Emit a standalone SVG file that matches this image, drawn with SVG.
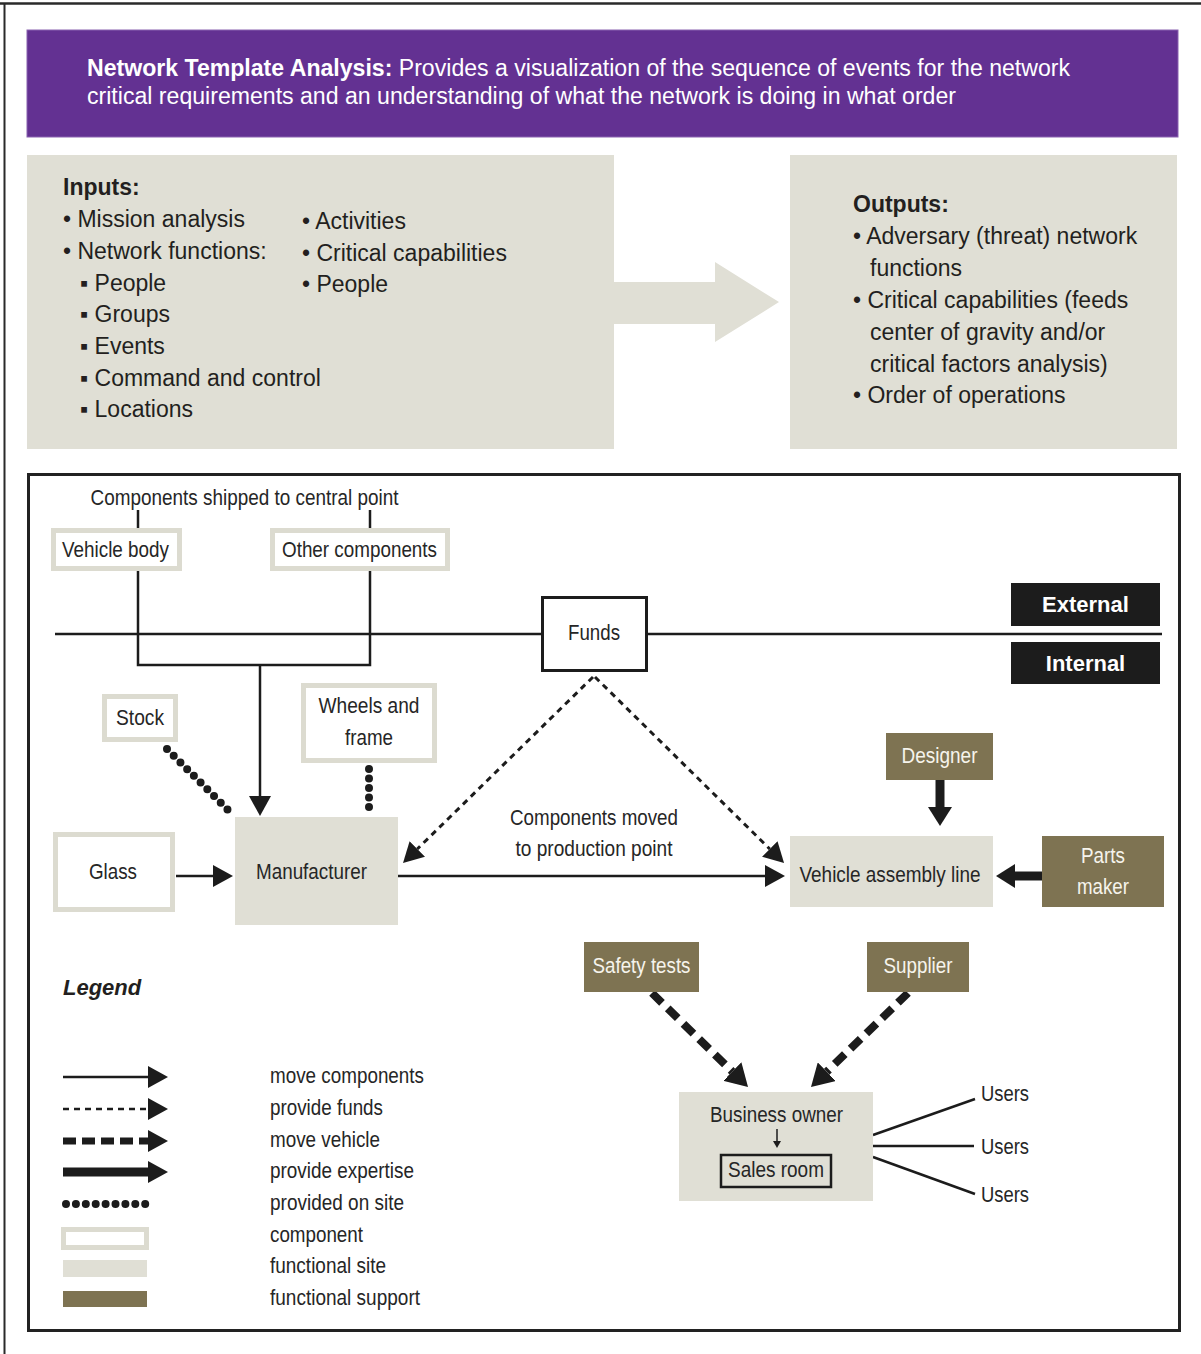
<svg xmlns="http://www.w3.org/2000/svg" width="1201" height="1354" viewBox="0 0 1201 1354">
  <style>
    .top { font-family: "Liberation Sans", Arial, sans-serif; font-size: 23px; fill: #231f20; }
    .hdr { fill: #ffffff; }
    .b { font-weight: bold; }
    .lbl { font-family: "Liberation Sans", Arial, sans-serif; font-size: 22px; fill: #262626; }
    .lblw { fill: #f6f4ec; }
    .tag { font-family: "Liberation Sans", Arial, sans-serif; font-size: 22px; font-weight: bold; fill: #ffffff; }
    .comp { fill: #ffffff; stroke: #dcdbd0; stroke-width: 5; }
    .site { fill: #e0dfd5; }
    .supp { fill: #7e7352; }
    .ln { fill: none; stroke: #1c1c1c; stroke-width: 2.5; }
    .funds { fill: none; stroke: #1c1c1c; stroke-width: 3; stroke-dasharray: 6 5; }
    .veh { fill: none; stroke: #1c1c1c; stroke-width: 8; stroke-dasharray: 14 8; }
    .exp { fill: none; stroke: #1c1c1c; stroke-width: 9; }
    .dots { fill: none; stroke: #1c1c1c; stroke-width: 8; stroke-linecap: round; stroke-dasharray: 0 9.5; }
  </style>
  <defs>
    <marker id="ah" markerUnits="userSpaceOnUse" markerWidth="20" markerHeight="22" refX="0" refY="11" orient="auto">
      <path d="M0,0 L20,11 L0,22 z" fill="#1c1c1c"/>
    </marker>
    <marker id="ahb" markerUnits="userSpaceOnUse" markerWidth="19" markerHeight="24" refX="0" refY="12" orient="auto">
      <path d="M0,0 L19,12 L0,24 z" fill="#1c1c1c"/>
    </marker>
    <marker id="ahv" markerUnits="userSpaceOnUse" markerWidth="22" markerHeight="26" refX="0" refY="13" orient="auto">
      <path d="M0,0 L22,13 L0,26 z" fill="#1c1c1c"/>
    </marker>
    <marker id="ahs" markerUnits="userSpaceOnUse" markerWidth="7" markerHeight="8" refX="0" refY="4" orient="auto">
      <path d="M0,0 L7,4 L0,8 z" fill="#1c1c1c"/>
    </marker>
  </defs>

  <rect width="1201" height="1354" fill="#ffffff"/>
  <!-- page edge -->
  <line x1="0" y1="3.5" x2="1201" y2="3.5" stroke="#2a2a2a" stroke-width="2.5"/>
  <line x1="4.5" y1="3" x2="4.5" y2="1354" stroke="#2a2a2a" stroke-width="2"/>

  <!-- title banner -->
  <g id="banner">
    <rect x="27" y="30" width="1151" height="107" fill="#633192" stroke="#8a62b0" stroke-width="1"/>
    <text class="top hdr" x="87" y="76" textLength="983" lengthAdjust="spacingAndGlyphs"><tspan class="b">Network Template Analysis:</tspan> Provides a visualization of the sequence of events for the network</text>
    <text class="top hdr" x="87" y="104" textLength="869" lengthAdjust="spacingAndGlyphs">critical requirements and an understanding of what the network is doing in what order</text>
  </g>

  <!-- inputs panel with arrow -->
  <g id="inputs">
    <rect x="27" y="155" width="587" height="294" class="site"/>
    <path d="M614,282 L715,282 L715,262 L779,302 L715,342 L715,324 L614,324 z" class="site"/>
    <text class="top b" x="63" y="195">Inputs:</text>
    <text class="top" x="63" y="227">• Mission analysis</text>
    <text class="top" x="63" y="259">• Network functions:</text>
    <text class="top" x="80" y="291">▪ People</text>
    <text class="top" x="80" y="322">▪ Groups</text>
    <text class="top" x="80" y="354">▪ Events</text>
    <text class="top" x="80" y="386">▪ Command and control</text>
    <text class="top" x="80" y="417">▪ Locations</text>
    <text class="top" x="302" y="229">• Activities</text>
    <text class="top" x="302" y="261">• Critical capabilities</text>
    <text class="top" x="302" y="292">• People</text>
  </g>

  <!-- outputs panel -->
  <g id="outputs">
    <rect x="790" y="155" width="387" height="294" class="site"/>
    <text class="top b" x="853" y="212">Outputs:</text>
    <text class="top" x="853" y="244">• Adversary (threat) network</text>
    <text class="top" x="870" y="276">functions</text>
    <text class="top" x="853" y="308">• Critical capabilities (feeds</text>
    <text class="top" x="870" y="340">center of gravity and/or</text>
    <text class="top" x="870" y="372">critical factors analysis)</text>
    <text class="top" x="853" y="403">• Order of operations</text>
  </g>

  <!-- network template frame -->
  <rect x="28.5" y="474.5" width="1151" height="856" fill="none" stroke="#222222" stroke-width="3"/>

  <!-- connectors -->
  <g id="connectors">
    <!-- external / internal boundary -->
    <line x1="55" y1="634" x2="541" y2="634" class="ln"/>
    <line x1="648" y1="634" x2="1162" y2="634" class="ln"/>
    <!-- shipped components -->
    <line x1="138" y1="510" x2="138" y2="529" class="ln"/>
    <line x1="370" y1="510" x2="370" y2="529" class="ln"/>
    <polyline points="138,571 138,665 370,665 370,571" class="ln"/>
    <line x1="260" y1="665" x2="260" y2="796" class="ln" marker-end="url(#ah)"/>
    <!-- glass to manufacturer -->
    <line x1="176" y1="876" x2="213" y2="876" class="ln" marker-end="url(#ah)"/>
    <!-- manufacturer to assembly line -->
    <line x1="398" y1="876" x2="765" y2="876" class="ln" marker-end="url(#ah)"/>
    <!-- funds -->
    <line x1="593" y1="677" x2="417.3" y2="849" class="funds" marker-end="url(#ah)"/>
    <line x1="595" y1="677" x2="769.8" y2="849" class="funds" marker-end="url(#ah)"/>
    <!-- provided on site -->
    <line x1="167" y1="749" x2="230" y2="812" class="dots"/>
    <line x1="369" y1="769" x2="369" y2="814" class="dots"/>
    <!-- expertise -->
    <line x1="940" y1="780" x2="940" y2="807" class="exp" marker-end="url(#ahb)"/>
    <line x1="1042" y1="876" x2="1015" y2="876" class="exp" marker-end="url(#ahb)"/>
    <!-- vehicle movement -->
    <line x1="652" y1="993" x2="732.3" y2="1071.6" class="veh" marker-end="url(#ahv)"/>
    <line x1="908" y1="993" x2="826.8" y2="1071.7" class="veh" marker-end="url(#ahv)"/>
    <!-- users -->
    <line x1="873" y1="1135" x2="975" y2="1099" class="ln"/>
    <line x1="873" y1="1146" x2="974" y2="1146" class="ln"/>
    <line x1="873" y1="1157" x2="975" y2="1194" class="ln"/>
  </g>

  <text class="lbl" x="244.5" y="505" text-anchor="middle" textLength="308" lengthAdjust="spacingAndGlyphs">Components shipped to central point</text>

  <g id="vehicle-body">
    <rect x="53.5" y="530.5" width="126" height="38" class="comp"/>
    <text class="lbl" x="115.5" y="557" text-anchor="middle" textLength="107" lengthAdjust="spacingAndGlyphs">Vehicle body</text>
  </g>
  <g id="other-components">
    <rect x="272.5" y="530.5" width="175" height="38" class="comp"/>
    <text class="lbl" x="359.5" y="557" text-anchor="middle" textLength="155" lengthAdjust="spacingAndGlyphs">Other components</text>
  </g>

  <g id="funds">
    <rect x="542.5" y="597.5" width="104" height="73" fill="#ffffff" stroke="#1c1c1c" stroke-width="3"/>
    <text class="lbl" x="594" y="640" text-anchor="middle" textLength="52" lengthAdjust="spacingAndGlyphs">Funds</text>
  </g>

  <g id="external">
    <rect x="1011" y="583" width="149" height="43" fill="#1c1c1c"/>
    <text class="tag" x="1085.5" y="612" text-anchor="middle">External</text>
  </g>
  <g id="internal">
    <rect x="1011" y="642" width="149" height="42" fill="#1c1c1c"/>
    <text class="tag" x="1085.5" y="671" text-anchor="middle">Internal</text>
  </g>

  <g id="stock">
    <rect x="104.5" y="696.5" width="71" height="43" class="comp"/>
    <text class="lbl" x="140" y="725" text-anchor="middle" textLength="48" lengthAdjust="spacingAndGlyphs">Stock</text>
  </g>
  <g id="wheels-frame">
    <rect x="303.5" y="685.5" width="131" height="75" class="comp"/>
    <text class="lbl" x="369" y="713" text-anchor="middle" textLength="101" lengthAdjust="spacingAndGlyphs">Wheels and</text>
    <text class="lbl" x="369" y="745" text-anchor="middle" textLength="48" lengthAdjust="spacingAndGlyphs">frame</text>
  </g>
  <g id="glass">
    <rect x="55.5" y="834.5" width="117" height="75" class="comp"/>
    <text class="lbl" x="113" y="879" text-anchor="middle" textLength="48" lengthAdjust="spacingAndGlyphs">Glass</text>
  </g>
  <g id="manufacturer">
    <rect x="235" y="817" width="163" height="108" class="site"/>
    <text class="lbl" x="311.5" y="879" text-anchor="middle" textLength="111" lengthAdjust="spacingAndGlyphs">Manufacturer</text>
  </g>

  <text class="lbl" x="594" y="825" text-anchor="middle" textLength="168" lengthAdjust="spacingAndGlyphs">Components moved</text>
  <text class="lbl" x="594" y="856" text-anchor="middle" textLength="157" lengthAdjust="spacingAndGlyphs">to production point</text>

  <g id="assembly-line">
    <rect x="790" y="836" width="203" height="71" class="site"/>
    <text class="lbl" x="890" y="882" text-anchor="middle" textLength="181" lengthAdjust="spacingAndGlyphs">Vehicle assembly line</text>
  </g>
  <g id="designer">
    <rect x="886" y="733" width="107" height="47" class="supp"/>
    <text class="lbl lblw" x="939.5" y="763" text-anchor="middle" textLength="76" lengthAdjust="spacingAndGlyphs">Designer</text>
  </g>
  <g id="parts-maker">
    <rect x="1042" y="836" width="122" height="71" class="supp"/>
    <text class="lbl lblw" x="1103" y="863" text-anchor="middle" textLength="44" lengthAdjust="spacingAndGlyphs">Parts</text>
    <text class="lbl lblw" x="1103" y="894" text-anchor="middle" textLength="52" lengthAdjust="spacingAndGlyphs">maker</text>
  </g>
  <g id="safety-tests">
    <rect x="584" y="942" width="115" height="50" class="supp"/>
    <text class="lbl lblw" x="641.5" y="973" text-anchor="middle" textLength="98" lengthAdjust="spacingAndGlyphs">Safety tests</text>
  </g>
  <g id="supplier">
    <rect x="867" y="942" width="102" height="50" class="supp"/>
    <text class="lbl lblw" x="918" y="973" text-anchor="middle" textLength="69" lengthAdjust="spacingAndGlyphs">Supplier</text>
  </g>
  <g id="business-owner">
    <rect x="679" y="1092" width="194" height="109" class="site"/>
    <text class="lbl" x="776.5" y="1122" text-anchor="middle" textLength="133" lengthAdjust="spacingAndGlyphs">Business owner</text>
    <line x1="777" y1="1129" x2="777" y2="1141" stroke="#1c1c1c" stroke-width="1.5" marker-end="url(#ahs)"/>
    <rect x="721" y="1155" width="110" height="32" fill="none" stroke="#1c1c1c" stroke-width="2.5"/>
    <text class="lbl" x="776" y="1177" text-anchor="middle" textLength="96" lengthAdjust="spacingAndGlyphs">Sales room</text>
  </g>
  <g id="users">
    <text class="lbl" x="981" y="1101" textLength="48" lengthAdjust="spacingAndGlyphs">Users</text>
    <text class="lbl" x="981" y="1154" textLength="48" lengthAdjust="spacingAndGlyphs">Users</text>
    <text class="lbl" x="981" y="1202" textLength="48" lengthAdjust="spacingAndGlyphs">Users</text>
  </g>

  <!-- legend -->
  <g id="legend">
    <text x="63" y="995" font-family="'Liberation Sans', Arial, sans-serif" font-size="22" font-weight="bold" font-style="italic" fill="#231f20">Legend</text>
    <line x1="63" y1="1077" x2="148" y2="1077" class="ln" marker-end="url(#ah)"/>
    <line x1="63" y1="1109" x2="148" y2="1109" fill="none" stroke="#1c1c1c" stroke-width="2.5" stroke-dasharray="6 5" marker-end="url(#ah)"/>
    <line x1="63" y1="1141" x2="148" y2="1141" fill="none" stroke="#1c1c1c" stroke-width="7" stroke-dasharray="13 6" marker-end="url(#ah)"/>
    <line x1="63" y1="1172" x2="148" y2="1172" class="exp" marker-end="url(#ah)"/>
    <line x1="66" y1="1204" x2="155" y2="1204" fill="none" stroke="#1c1c1c" stroke-width="8" stroke-linecap="round" stroke-dasharray="0 9.9"/>
    <rect x="63.5" y="1229.5" width="83" height="18" class="comp"/>
    <rect x="63" y="1260" width="84" height="17" class="site"/>
    <rect x="63" y="1291" width="84" height="16" class="supp"/>
    <text class="lbl" x="270" y="1083" textLength="154" lengthAdjust="spacingAndGlyphs">move components</text>
    <text class="lbl" x="270" y="1115" textLength="113" lengthAdjust="spacingAndGlyphs">provide funds</text>
    <text class="lbl" x="270" y="1147" textLength="110" lengthAdjust="spacingAndGlyphs">move vehicle</text>
    <text class="lbl" x="270" y="1178" textLength="144" lengthAdjust="spacingAndGlyphs">provide expertise</text>
    <text class="lbl" x="270" y="1210" textLength="134" lengthAdjust="spacingAndGlyphs">provided on site</text>
    <text class="lbl" x="270" y="1242" textLength="93" lengthAdjust="spacingAndGlyphs">component</text>
    <text class="lbl" x="270" y="1273" textLength="116" lengthAdjust="spacingAndGlyphs">functional site</text>
    <text class="lbl" x="270" y="1305" textLength="150" lengthAdjust="spacingAndGlyphs">functional support</text>
  </g>
</svg>
